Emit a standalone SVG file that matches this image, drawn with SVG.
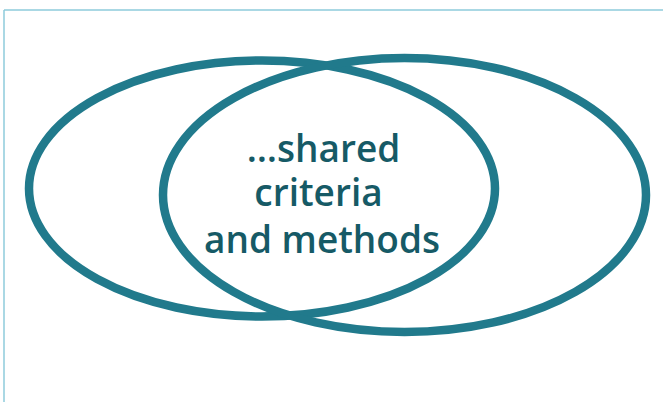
<svg xmlns="http://www.w3.org/2000/svg" width="663" height="402" viewBox="0 0 663 402">
<style>
.frame{stroke:#8ecbdb;stroke-width:1.5;fill:none}
.ring{fill:none;stroke:#217a8c;stroke-width:8.5}
.lbl{font-family:"Open Sans","DejaVu Sans",sans-serif;font-weight:600;font-size:37px;fill:#165a66;text-anchor:middle}
</style>
<rect width="663" height="402" fill="#ffffff"/>
<g id="frame">
<line class="frame" x1="4" y1="10" x2="663" y2="10"/>
<line class="frame" x1="4" y1="10" x2="4" y2="402"/>
</g>
<g id="circle-left"><ellipse class="ring" cx="262" cy="188.5" rx="233" ry="128"/></g>
<g id="circle-right"><ellipse class="ring" cx="404.5" cy="195" rx="241.5" ry="137"/></g>
<g id="label">
<text class="lbl" x="323.5" y="162">…shared</text>
<text class="lbl" x="318.5" y="206">criteria</text>
<text class="lbl" x="322" y="253">and methods</text>
</g>
</svg>
